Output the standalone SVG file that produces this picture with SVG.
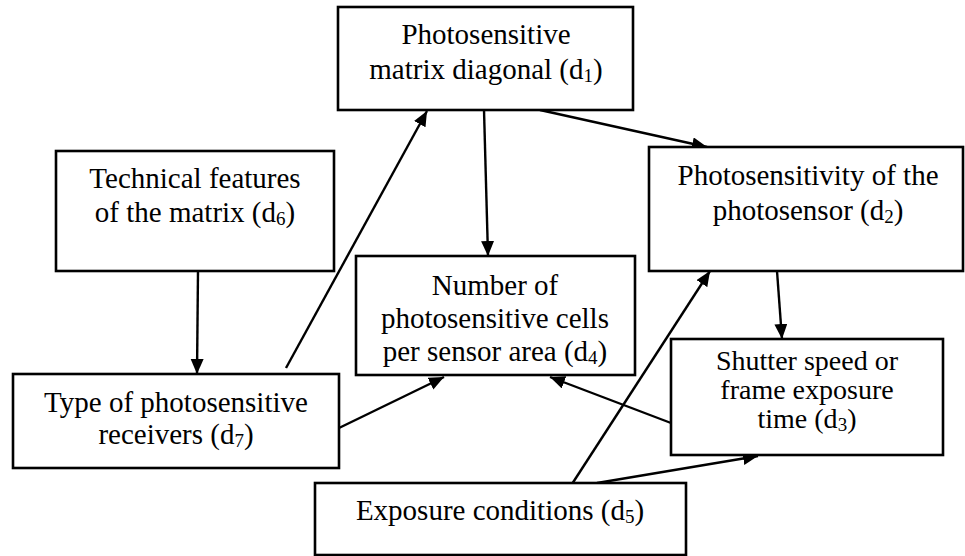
<svg xmlns="http://www.w3.org/2000/svg" width="965" height="556" viewBox="0 0 965 556">
  <style>
    .box { fill: #ffffff; stroke: #000000; stroke-width: 2.6; }
    .lbl { font-family: "Liberation Serif", "Times New Roman", "DejaVu Serif", serif; font-size: 29px; fill: #000000; text-anchor: middle; }
    .tight { font-size: 28px; }
    .sub { font-size: 19px; }
    .edge { stroke: #000000; stroke-width: 2.4; fill: none; marker-end: url(#arrow); }
  </style>
  <defs>
    <marker id="arrow" markerUnits="userSpaceOnUse" markerWidth="16" markerHeight="14" refX="15" refY="6.5" orient="auto">
      <path d="M0,0 L15,6.5 L0,13 Z" fill="#000000"/>
    </marker>
  </defs>
  <rect width="965" height="556" fill="#ffffff"/>

  <g id="connectors">
    <!-- d1 -> d4 -->
    <line class="edge" x1="484" y1="110" x2="488" y2="256"/>
    <!-- d1 -> d2 -->
    <line class="edge" x1="540" y1="110" x2="707" y2="147"/>
    <!-- d6 -> d7 -->
    <line class="edge" x1="198" y1="271" x2="197" y2="374"/>
    <!-- d7 -> d1 -->
    <line class="edge" x1="286" y1="368" x2="427" y2="111"/>
    <!-- d7 -> d4 -->
    <line class="edge" x1="339" y1="428" x2="444" y2="377"/>
    <!-- d3 -> d4 -->
    <line class="edge" x1="671" y1="423" x2="550" y2="377"/>
    <!-- d2 -> d3 -->
    <line class="edge" x1="777" y1="271" x2="782" y2="339"/>
    <!-- d5 -> d2 -->
    <line class="edge" x1="572" y1="484" x2="710" y2="271"/>
    <!-- d5 -> d3 -->
    <line class="edge" x1="597" y1="483" x2="758" y2="456"/>
  </g>

  <g id="node-d1">
    <rect class="box" x="338" y="7" width="295" height="103"/>
    <text class="lbl" x="486" y="44">Photosensitive<tspan x="486" y="79">matrix diagonal (d</tspan><tspan class="sub" dy="3">1</tspan><tspan dy="-3">)</tspan></text>
  </g>

  <g id="node-d6">
    <rect class="box" x="56" y="151" width="278" height="120"/>
    <text class="lbl" x="195" y="188">Technical features<tspan x="195" y="222">of the matrix (d</tspan><tspan class="sub" dy="3">6</tspan><tspan dy="-3">)</tspan></text>
  </g>

  <g id="node-d2">
    <rect class="box" x="649" y="147" width="314" height="124"/>
    <text class="lbl" x="808" y="185">Photosensitivity of the<tspan x="808" y="220">photosensor (d</tspan><tspan class="sub" dy="3">2</tspan><tspan dy="-3">)</tspan></text>
  </g>

  <g id="node-d4">
    <rect class="box" x="356" y="256" width="279" height="119"/>
    <text class="lbl" x="495" y="295">Number of<tspan x="495" y="328">photosensitive cells</tspan><tspan x="495" y="361">per sensor area (d</tspan><tspan class="sub" dy="3">4</tspan><tspan dy="-3">)</tspan></text>
  </g>

  <g id="node-d7">
    <rect class="box" x="13" y="374" width="326" height="94"/>
    <text class="lbl" x="176" y="412">Type of photosensitive<tspan x="176" y="444">receivers (d</tspan><tspan class="sub" dy="3">7</tspan><tspan dy="-3">)</tspan></text>
  </g>

  <g id="node-d3">
    <rect class="box" x="671" y="339" width="272" height="116"/>
    <text class="lbl tight" x="807" y="370">Shutter speed or<tspan x="807" y="399">frame exposure</tspan><tspan x="807" y="428">time (d</tspan><tspan class="sub" dy="3">3</tspan><tspan dy="-3">)</tspan></text>
  </g>

  <g id="node-d5">
    <rect class="box" x="315" y="483" width="371" height="72"/>
    <text class="lbl" x="500" y="520">Exposure conditions (d<tspan class="sub" dy="3">5</tspan><tspan dy="-3">)</tspan></text>
  </g>
</svg>
